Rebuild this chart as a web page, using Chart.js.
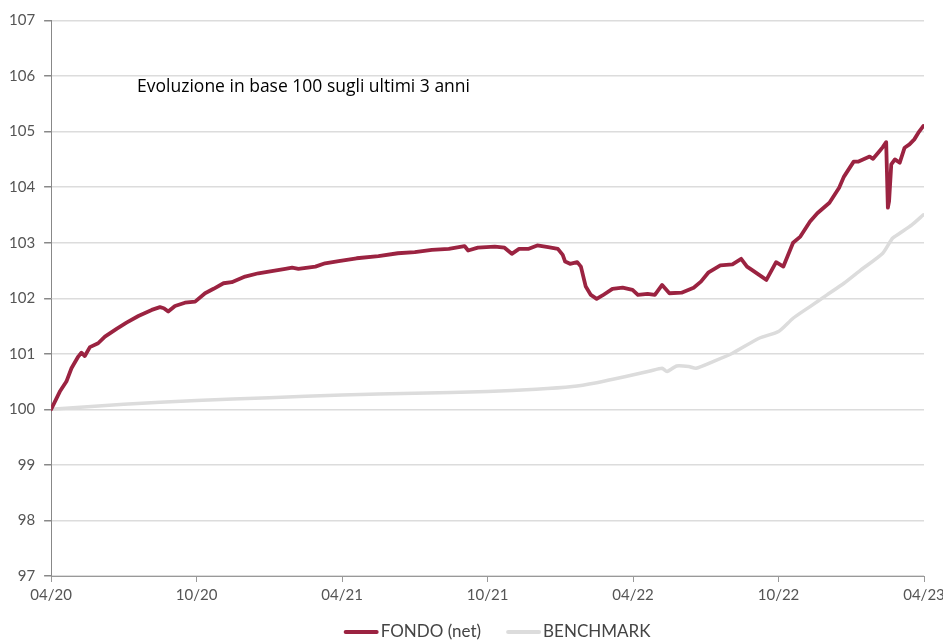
<!DOCTYPE html>
<html>
<head>
<meta charset="utf-8">
<title>Evoluzione in base 100</title>
<script src="https://cdn.jsdelivr.net/npm/chart.js@4.4.0/dist/chart.umd.min.js"></script>
<style>
  html, body { margin: 0; padding: 0; background: #fff; }
</style>
</head>
<body>
<canvas id="chart" width="943" height="640"></canvas>
<script>
/* ================= DATA ================= */
// x = months since 04/2020
const tickLabels = ["04/20", "10/20", "04/21", "10/21", "04/22", "10/22", "04/23"];

const fondoMonths = [
  0, 0.36, 0.63, 0.84, 1.12, 1.25, 1.39, 1.6, 1.94, 2.22,
  2.7, 3.11, 3.6, 4.15, 4.49, 4.65, 4.83, 5.11, 5.52, 5.94,
  6.35, 6.7, 7.11, 7.45, 8.0, 8.55, 9.1, 9.66, 9.94, 10.2,
  10.9, 11.3, 11.86, 12.6, 13.5, 14.3, 15.0, 15.7, 16.4, 17.05,
  17.2, 17.6, 18.3, 18.7, 19.0, 19.3, 19.7, 20.05, 20.5, 20.9,
  21.1, 21.2, 21.4, 21.7, 21.85, 22.05, 22.26, 22.5, 22.74, 23.15,
  23.57, 23.98, 24.2, 24.6, 24.9, 25.2, 25.5, 26.0, 26.5, 26.8,
  27.1, 27.6, 28.1, 28.46, 28.7, 28.9, 29.2, 29.5, 29.9, 30.2,
  30.6, 30.9, 31.3, 31.6, 32.1, 32.5, 32.7, 33.1, 33.3, 33.76,
  33.9, 34.17, 34.3, 34.44, 34.51, 34.56, 34.65, 34.8, 35.0, 35.2,
  35.4, 35.6, 35.8, 35.97
];
const fondoValues = [
  100.0, 100.32, 100.5, 100.74, 100.95, 101.02, 100.96, 101.12, 101.19, 101.31,
  101.45, 101.56, 101.68, 101.79, 101.84, 101.82, 101.76, 101.86, 101.92, 101.94,
  102.09, 102.17, 102.27, 102.29, 102.39, 102.45, 102.49, 102.53, 102.55, 102.53,
  102.57, 102.63, 102.67, 102.72, 102.76, 102.81, 102.83, 102.87, 102.89, 102.94,
  102.86, 102.91, 102.93, 102.91, 102.8, 102.89, 102.89, 102.95, 102.92, 102.89,
  102.78, 102.66, 102.62, 102.65, 102.57, 102.21, 102.06, 101.99, 102.05, 102.17,
  102.19, 102.15, 102.06, 102.08, 102.06, 102.24, 102.09, 102.1, 102.19, 102.3,
  102.46, 102.59, 102.61, 102.71, 102.57, 102.51, 102.42, 102.33, 102.65, 102.57,
  103.0, 103.11, 103.38, 103.53, 103.72, 103.99, 104.19, 104.46, 104.46, 104.55,
  104.51, 104.65, 104.72, 104.81, 103.63, 103.75, 104.41, 104.5, 104.44, 104.71,
  104.77, 104.86, 105.0, 105.1
];

const benchMonths = [
  0, 3, 6, 9, 12, 15, 18, 20, 21.5, 22.5,
  23.7, 24.7, 25.2, 25.4, 25.8, 26.3, 26.6, 27.3, 28.1, 29.2,
  30.0, 30.6, 31.3, 32.0, 32.7, 33.4, 34.3, 34.7, 35.0, 35.5,
  35.97
];
const benchValues = [
  100.0, 100.09, 100.16, 100.21, 100.26, 100.29, 100.32, 100.36, 100.41, 100.48,
  100.59, 100.69, 100.74, 100.68, 100.78, 100.77, 100.74, 100.86, 101.01, 101.28,
  101.4, 101.64, 101.85, 102.06, 102.27, 102.51, 102.81, 103.08, 103.17, 103.32,
  103.5
];

const chartTitle = "Evoluzione in base 100 sugli ultimi 3 anni";

/* ================= PLUGINS ================= */
const titlePlugin = {
  id: "innerTitle",
  afterDraw(chart) {
    const ctx = chart.ctx;
    ctx.save();
    ctx.font = "17.5px 'Open Sans', Lato, sans-serif";
    ctx.fillStyle = "#000";
    ctx.textBaseline = "alphabetic";
    ctx.fillText(chartTitle, chart.chartArea.left + 86, 92);
    ctx.restore();
  }
};

const legendPlugin = {
  id: "bottomLegend",
  afterDraw(chart) {
    const ctx = chart.ctx;
    const sets = chart.data.datasets;
    const swatch = 35, gap = 2, spacing = 25;
    ctx.save();
    ctx.font = "17px Lato, 'Open Sans', sans-serif";
    const widths = sets.map(d => swatch + gap + ctx.measureText(d.label).width);
    const total = widths.reduce((a, b) => a + b, 0) + spacing * (sets.length - 1);
    let x = (chart.chartArea.left + chart.width) / 2 - total / 2;
    const y = 632;
    sets.forEach((d, i) => {
      ctx.strokeStyle = d.borderColor;
      ctx.lineWidth = 4;
      ctx.lineCap = "round";
      ctx.beginPath();
      ctx.moveTo(x + 2, y);
      ctx.lineTo(x + swatch - 2, y);
      ctx.stroke();
      ctx.fillStyle = "#444";
      ctx.textBaseline = "middle";
      ctx.fillText(d.label, x + swatch + gap, y);
      x += widths[i] + spacing;
    });
    ctx.restore();
  }
};

/* ================= CHART ================= */
const toPoints = (xs, ys) => xs.map((x, i) => ({ x, y: ys[i] }));

new Chart(document.getElementById("chart"), {
  type: "line",
  data: {
    datasets: [
      {
        label: "FONDO (net)",
        data: toPoints(fondoMonths, fondoValues),
        borderColor: "#9b2341",
        borderWidth: 3.8,
        pointRadius: 0,
        tension: 0,
        borderJoinStyle: "round",
        borderCapStyle: "round"
      },
      {
        label: "BENCHMARK",
        data: toPoints(benchMonths, benchValues),
        borderColor: "#dcdcdc",
        borderWidth: 3.5,
        pointRadius: 0,
        tension: 0.2,
        borderJoinStyle: "round",
        borderCapStyle: "round"
      }
    ]
  },
  options: {
    responsive: false,
    animation: false,
    layout: { padding: { left: 0, right: 0, top: 0, bottom: 32 } },
    plugins: {
      legend: { display: false },
      tooltip: { enabled: false }
    },
    scales: {
      x: {
        type: "linear",
        min: 0,
        max: 36,
        afterBuildTicks: s => { s.ticks = tickLabels.map((_, i) => ({ value: i * 6 })); },
        afterFit: s => { s.paddingRight = 19; },
        ticks: {
          callback: v => tickLabels[Math.round(v / 6)],
          color: "#555",
          font: { family: "Lato, 'Open Sans', sans-serif", size: 15 },
          padding: 4,
          maxRotation: 0
        },
        grid: { drawOnChartArea: false, tickColor: "#999", tickLength: 6 },
        border: { color: "#999", width: 1 }
      },
      y: {
        min: 97,
        max: 107,
        afterFit: s => { s.paddingTop = 20.5; },
        ticks: {
          stepSize: 1,
          color: "#555",
          font: { family: "Lato, 'Open Sans', sans-serif", size: 15 },
          padding: 9
        },
        grid: { color: "#dcdcdc", lineWidth: 1.5, tickColor: "#888", tickLength: 7 },
        border: { color: "#888", width: 1 }
      }
    }
  },
  plugins: [titlePlugin, legendPlugin]
});
</script>
</body>
</html>
